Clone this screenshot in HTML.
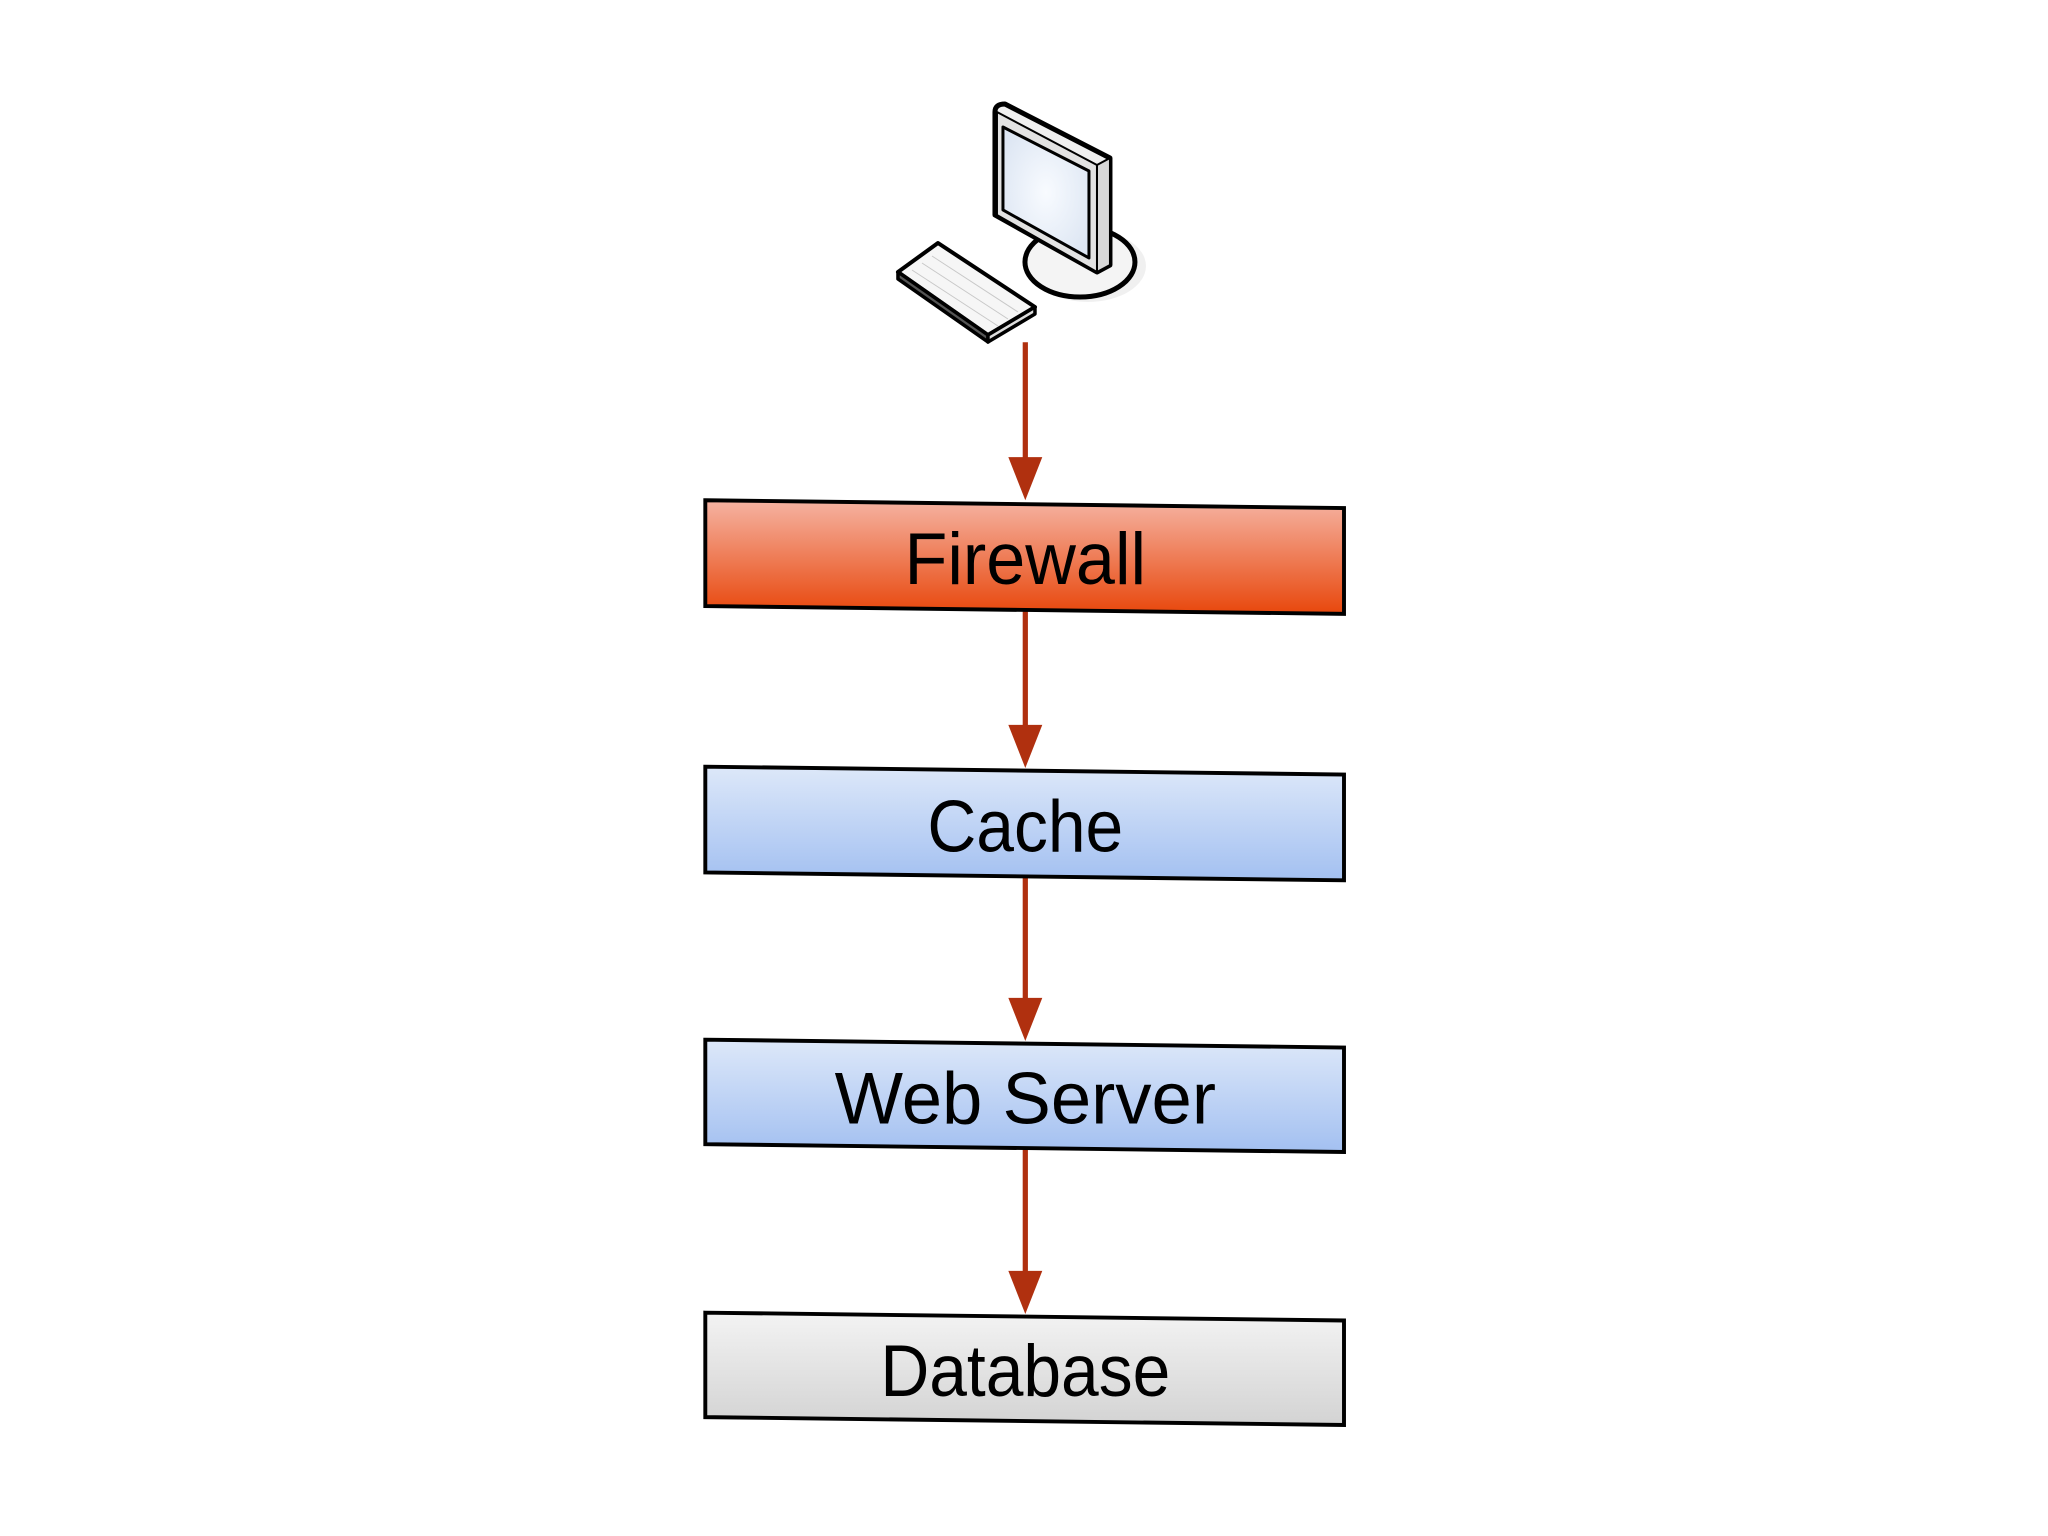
<!DOCTYPE html>
<html><head><meta charset="utf-8"><style>html,body{margin:0;padding:0;background:#fff;}svg{display:block}</style></head>
<body>
<svg width="2048" height="1536" viewBox="0 0 1568 1176" xmlns="http://www.w3.org/2000/svg">
<defs>
<linearGradient id="gr" x1="0" y1="0" x2="0" y2="1"><stop offset="0" stop-color="#f5b3a2"/><stop offset="1" stop-color="#e8470c"/></linearGradient>
<linearGradient id="gb" x1="0" y1="0" x2="0" y2="1"><stop offset="0" stop-color="#dde8f9"/><stop offset="1" stop-color="#a3c0f1"/></linearGradient>
<linearGradient id="gg" x1="0" y1="0" x2="0" y2="1"><stop offset="0" stop-color="#f3f3f3"/><stop offset="1" stop-color="#d3d3d3"/></linearGradient>
<radialGradient id="scr" cx="0.5" cy="0.5" r="0.6"><stop offset="0" stop-color="#f8fbff"/><stop offset="1" stop-color="#dde6f3"/></radialGradient>
</defs>
<rect width="1568" height="1176" fill="#fff"/>

<g transform="scale(0.7656)" stroke="#000" stroke-linejoin="round">
  <ellipse cx="1088" cy="266" rx="58" ry="36" fill="#e6e6e6" stroke="none" opacity="0.6"/>
  <ellipse cx="1080" cy="262" rx="55" ry="35" fill="#f4f4f4" stroke-width="5"/>
  <path d="M995,112 Q995,104 1005,104 L1110,158 L1110,265 L1097,272 L995,215 Z" fill="#f0f0f0" stroke-width="5"/>
  <polygon points="1097,165 1110,158 1110,265 1097,272" fill="#d8d8d8" stroke-width="2"/>
  <polygon points="997,112 1097,165 1097,272 997,215" fill="#e2e2e2" stroke-width="2"/>
  <polygon points="1003,127 1089,171 1089,258 1003,210" fill="url(#scr)" stroke-width="3"/>
  <polygon points="898,272 938,243 1035,307 988,335" fill="#f6f6f6" stroke-width="4"/>
  <polygon points="898,272 988,335 988,342 898,279" fill="#555" stroke-width="3.5"/>
  <polygon points="988,335 1035,307 1035,314 988,342" fill="#ddd" stroke-width="3.5"/>
  <g stroke="#c8c8c8" stroke-width="1" fill="none">
    <line x1="912" y1="270" x2="998" y2="326"/><line x1="922" y1="263" x2="1008" y2="319"/>
    <line x1="932" y1="256" x2="1018" y2="312"/>
  </g>
</g>

<g fill="#b0300f" stroke="#b0300f">
  <line x1="785" y1="262" x2="785" y2="352" stroke-width="4"/>
  <polygon points="772,350 798,350 785,383" stroke="none"/>
  <line x1="785" y1="468" x2="785" y2="557" stroke-width="4"/>
  <polygon points="772,555 798,555 785,588" stroke="none"/>
  <line x1="785" y1="672" x2="785" y2="766" stroke-width="4"/>
  <polygon points="772,764 798,764 785,797" stroke="none"/>
  <line x1="785" y1="880" x2="785" y2="975" stroke-width="4"/>
  <polygon points="772,973 798,973 785,1006" stroke="none"/>
</g>

<g stroke="#000" stroke-width="3">
  <polygon points="540,383 1029,389 1029,470 540,464" fill="url(#gr)"/>
  <polygon points="540,587 1029,593 1029,674 540,668" fill="url(#gb)"/>
  <polygon points="540,796 1029,802 1029,882 540,876" fill="url(#gb)"/>
  <polygon points="540,1005 1029,1011 1029,1091 540,1085" fill="url(#gg)"/>
</g>
<g font-family="Liberation Sans, sans-serif" font-size="56" fill="#000" text-anchor="middle">
  <text x="785" y="447" textLength="185" lengthAdjust="spacingAndGlyphs">Firewall</text>
  <text x="785" y="652" textLength="150" lengthAdjust="spacingAndGlyphs">Cache</text>
  <text x="785" y="860" textLength="292" lengthAdjust="spacingAndGlyphs">Web Server</text>
  <text x="785" y="1069" textLength="222" lengthAdjust="spacingAndGlyphs">Database</text>
</g>
</svg>
</body></html>
